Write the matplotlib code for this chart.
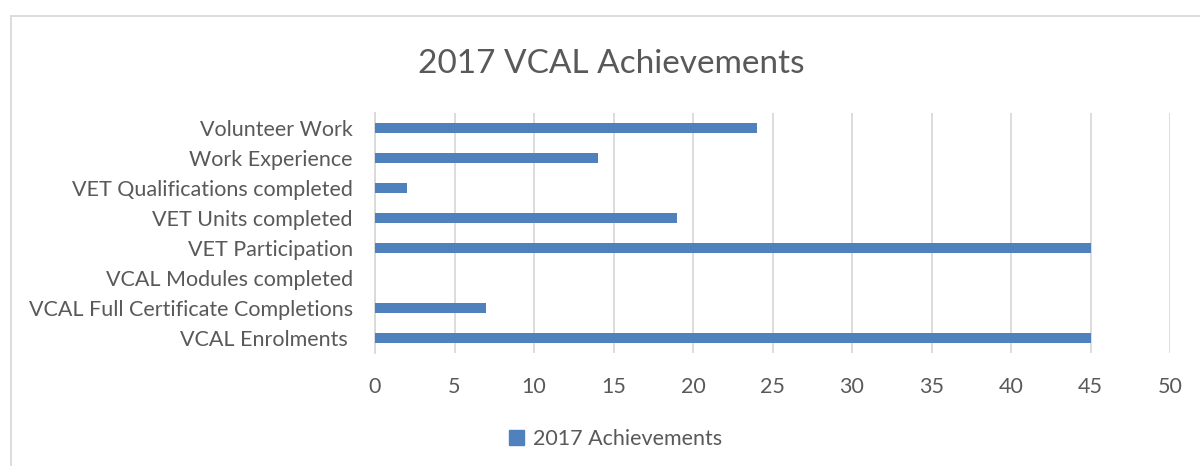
import matplotlib
matplotlib.use('Agg')
import matplotlib.pyplot as plt
import matplotlib.lines as mlines
import matplotlib.patches as mpatches

# data, bottom to top as drawn
categories = ['VCAL Enrolments ', 'VCAL Full Certificate Completions', 'VCAL Modules completed',
              'VET Participation', 'VET Units completed', 'VET Qualifications completed',
              'Work Experience', 'Volunteer Work']
values = [45, 7, 0, 45, 19, 2, 14, 24]
xticks = [0, 5, 10, 15, 20, 25, 30, 35, 40, 45, 50]

bar_color = '#4f81bd'
text_color = '#595959'
grid_color = '#d9d9d9'

plt.rcParams['font.family'] = ['Lato', 'DejaVu Sans']

fig = plt.figure(figsize=(12, 4.66), dpi=100)
ax = fig.add_axes([0.3125, 0.2425, 0.6625, 0.515])

pos = range(len(categories))
ax.barh(pos, values, height=0.35, color=bar_color, zorder=3)

ax.set_xlim(0, 50)
ax.set_ylim(-0.5, len(categories) - 0.5)
ax.set_xticks(xticks)
ax.set_yticks(list(pos))
ax.set_yticklabels(categories)
ax.tick_params(axis='both', length=0, colors=text_color, labelsize=15.5)
ax.tick_params(axis='x', pad=17)
ax.tick_params(axis='y', pad=16)
ax.xaxis.grid(True, color=grid_color, linewidth=1.3, zorder=0)
for s in ['top', 'right', 'bottom']:
    ax.spines[s].set_visible(False)
ax.spines['left'].set_color(grid_color)
ax.spines['left'].set_linewidth(1.3)

fig.text(0.509, 0.862, '2017 VCAL Achievements', ha='center', va='center',
         fontsize=24, color=text_color)

handle = mpatches.Patch(color=bar_color)
fig.legend([handle], ['2017 Achievements'], loc='center', bbox_to_anchor=(0.513, 0.058),
           frameon=False, fontsize=15.5, labelcolor=text_color,
           handlelength=0.7, handleheight=0.7, handletextpad=0.4)

# chart border (only left and top edges are visible in the crop)
fig.add_artist(mlines.Line2D([0.009, 0.009], [0, 0.966], color=grid_color, linewidth=1.3,
                             transform=fig.transFigure))
fig.add_artist(mlines.Line2D([0.009, 1.0], [0.966, 0.966], color=grid_color, linewidth=1.3,
                             transform=fig.transFigure))

fig.savefig('out.png', dpi=100)
